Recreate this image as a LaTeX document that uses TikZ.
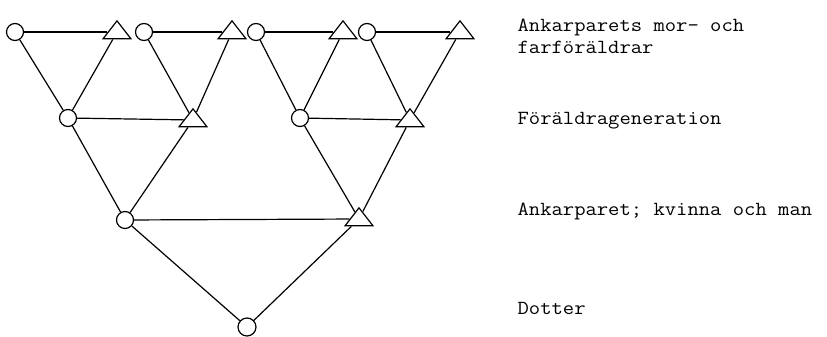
\documentclass[tikz,border=0pt]{standalone}
\usepackage{fontspec}
\usetikzlibrary{shapes.geometric}
\begin{document}
\begin{tikzpicture}[x=1pt,y=-1pt,
  line width=1.2pt,
  fem/.style={circle,draw,minimum size=17pt,inner sep=0pt},
  male/.style={isosceles triangle,isosceles triangle stretches,shape border rotate=90,
     draw,minimum width=28pt,minimum height=18pt,inner sep=0pt},
  lab/.style={anchor=base west,inner sep=0pt,font=\ttfamily\fontsize{20}{22}\selectfont}]
\useasboundingbox (0,0) rectangle (827,337);
% grandparents
\node[fem]  (c1) at (15,32) {};
\node[male] (t1) at (117,32) {};
\node[fem]  (c2) at (144,32) {};
\node[male] (t2) at (232,32) {};
\node[fem]  (c3) at (256,32) {};
\node[male] (t3) at (343,32) {};
\node[fem]  (c4) at (367,32) {};
\node[male] (t4) at (460,32) {};
% parents
\node[fem]  (pc1) at (68,118) {};
\node[male] (pt1) at (193,120) {};
\node[fem]  (pc2) at (300,118) {};
\node[male] (pt2) at (410,120) {};
% anchor couple
\node[fem]  (ac) at (125,220) {};
\node[male] (at) at (359,219) {};
% daughter
\node[fem,minimum size=18pt] (d) at (247,327) {};
% couple lines
\draw (c1) -- (t1); \draw (c2) -- (t2); \draw (c3) -- (t3); \draw (c4) -- (t4);
\draw (pc1) -- (pt1); \draw (pc2) -- (pt2); \draw (ac) -- (at);
% descent lines
\draw (c1) -- (pc1); \draw (t1) -- (pc1);
\draw (c2) -- (pt1); \draw (t2) -- (pt1);
\draw (c3) -- (pc2); \draw (t3) -- (pc2);
\draw (c4) -- (pt2); \draw (t4) -- (pt2);
\draw (pc1) -- (ac); \draw (pt1) -- (ac);
\draw (pc2) -- (at); \draw (pt2) -- (at);
\draw (ac) -- (d); \draw (at) -- (d);
% labels
\node[lab] (l1) at (517,32) {\scalebox{1.1}[1]{Ankarparets mor- och}};
\node[lab] (l2) at (517,53) {\scalebox{1.1}[1]{farföräldrar}};
\node[lab] (l3) at (517,124) {\scalebox{1.1}[1]{Föräldrageneration}};
\node[lab] (l4) at (517,215) {\scalebox{1.1}[1]{Ankarparet; kvinna och man}};
\node[lab] (l5) at (517,314) {\scalebox{1.1}[1]{Dotter}};
\end{tikzpicture}
\end{document}
